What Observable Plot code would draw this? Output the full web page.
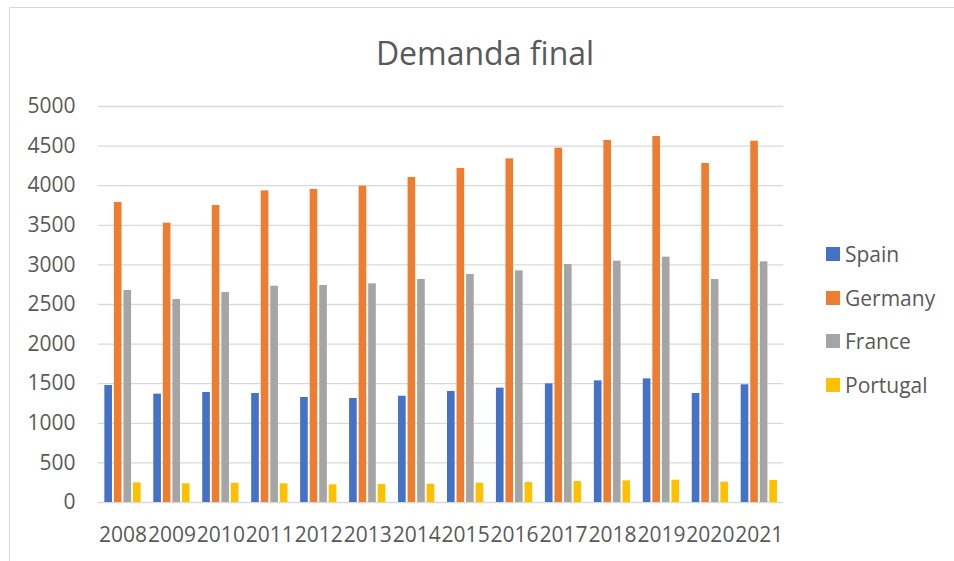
<!DOCTYPE html>
<html>
<head>
<meta charset="utf-8">
<script src="https://cdn.jsdelivr.net/npm/d3@7"></script>
<script src="https://cdn.jsdelivr.net/npm/@observablehq/plot@0.6"></script>
<style>
  html, body { margin: 0; padding: 0; background: #fff; }
  body { width: 954px; height: 561px; position: relative; overflow: hidden; font-family: "Open Sans", sans-serif; color: #595959; }
  #frame { position: absolute; left: 9px; top: 7px; width: 960px; height: 570px; border: 1px solid #d9d9d9; box-sizing: border-box; }
  #title { position: absolute; left: 9px; width: 952px; top: 30px; height: 46px; line-height: 46px; text-align: center; font-size: 32px; color: #595959; }
  #chart { position: absolute; left: 0; top: 80px; width: 800px; height: 481px; }
  #chart svg { position: absolute; left: 0; top: 0; background: transparent; overflow: visible; }
  #legend { position: absolute; left: 826px; top: 232px; }
  .row { display: flex; align-items: center; height: 43.7px; font-size: 21px; color: #595959; }
  .sw { width: 14px; height: 14px; margin-right: 5px; }
</style>
</head>
<body>
<div id="frame"></div>
<div id="title">Demanda final</div>
<div id="chart"></div>
<div id="legend"></div>
<script>
const years = ["2008","2009","2010","2011","2012","2013","2014","2015","2016","2017","2018","2019","2020","2021"];
const series = ["Spain","Germany","France","Portugal"];
const colors = ["#4472C4","#ED7D31","#A5A5A5","#FFC000"];
const spain    = [1477,1368,1389,1376,1326,1313,1342,1402,1444,1498,1536,1561,1376,1486];
const germany  = [3788,3527,3750,3935,3952,3994,4103,4217,4339,4474,4571,4621,4280,4562];
const france   = [2677,2563,2651,2731,2740,2761,2816,2879,2925,3005,3047,3098,2816,3039];
const portugal = [248,236,244,236,223,227,231,244,252,265,273,282,257,278];
const yTicks = [0,500,1000,1500,2000,2500,3000,3500,4000,4500,5000];

const values = [spain, germany, france, portugal];
const data = [];
years.forEach((y, i) => series.forEach((s, j) => data.push({year: y, country: s, value: values[j][i]})));

const W = 800, H = 481;
const margins = {marginTop: 26, marginBottom: 59, marginLeft: 98, marginRight: 16.7};
const style = {fontSize: "21px", fontFamily: "Open Sans, sans-serif", color: "#595959", background: "transparent", overflow: "visible"};

const bg = Plot.plot({
  width: W, height: H, ...margins,
  style,
  y: {domain: [0, 5000], ticks: yTicks, tickFormat: d3.format("d"), tickSize: 0, tickPadding: 23, label: null},
  marks: [
    Plot.ruleY(yTicks, {stroke: "#d9d9d9", strokeWidth: 1.3})
  ]
});

const fg = Plot.plot({
  width: W, height: H, ...margins,
  style,
  fx: {domain: years, paddingInner: 0.22, paddingOuter: 0.11, round: false, tickSize: 0, tickPadding: 25, label: null},
  x: {domain: series, paddingInner: 0.2, paddingOuter: 0.1, round: false, axis: null},
  y: {domain: [0, 5000], axis: null},
  color: {domain: series, range: colors},
  marks: [
    Plot.barY(data, {fx: "year", x: "country", y: "value", fill: "country"})
  ]
});

const chart = document.getElementById("chart");
chart.appendChild(bg);
chart.appendChild(fg);

const legend = document.getElementById("legend");
series.forEach((s, j) => {
  const row = document.createElement("div");
  row.className = "row";
  const sw = document.createElement("div");
  sw.className = "sw";
  sw.style.background = colors[j];
  const t = document.createElement("span");
  t.textContent = s;
  row.appendChild(sw);
  row.appendChild(t);
  legend.appendChild(row);
});
</script>
</body>
</html>
